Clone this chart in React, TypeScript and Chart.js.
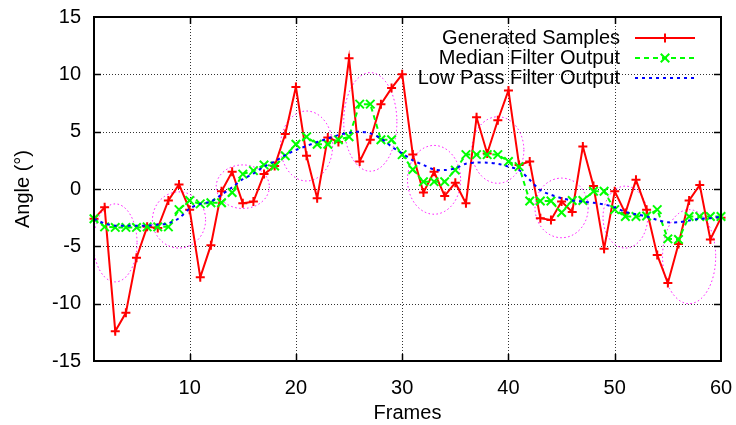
import React, { useEffect, useRef } from 'react';
import { Chart, registerables } from 'chart.js';

Chart.register(...registerables);

const frames = [
  1, 2, 3, 4, 5, 6, 7, 8, 9, 10, 11, 12, 13, 14, 15, 16, 17, 18, 19, 20,
  21, 22, 23, 24, 25, 26, 27, 28, 29, 30, 31, 32, 33, 34, 35, 36, 37, 38, 39, 40,
  41, 42, 43, 44, 45, 46, 47, 48, 49, 50, 51, 52, 53, 54, 55, 56, 57, 58, 59, 60,
];

const generated = [
  -2.6, -1.6, -12.4, -10.8, -6.0, -3.3, -3.4, -1.0, 0.4, -1.8,
  -7.7, -4.9, -0.2, 1.5, -1.25, -1.1, 1.3, 2.0, 4.8, 8.9,
  2.9, -0.8, 4.5, 4.1, 11.4, 2.4, 4.3, 7.4, 8.8, 10.0,
  3.0, -0.3, 1.5, -0.6, 0.55, -1.25, 6.25, 3.1, 6.0, 8.6,
  2.1, 2.4, -2.55, -2.7, -1.1, -2.0, 3.7, 0.26, -5.2, -0.2,
  -2.1, 0.8, -1.8, -5.75, -8.2, -4.8, -1.0, 0.35, -4.4, -2.5,
];

const medianOut = [
  -2.6, -3.3, -3.35, -3.35, -3.35, -3.3, -3.3, -3.3, -1.8, -1.0,
  -1.3, -1.2, -1.2, -0.3, 1.3, 1.6, 2.1, 2.0, 2.9, 3.9,
  4.55, 3.9, 3.9, 4.3, 4.55, 7.4, 7.4, 4.3, 4.3, 3.0,
  1.7, 0.64, 0.64, 0.64, 1.65, 3.0, 3.0, 3.0, 3.0, 2.4,
  1.95, -1.05, -1.05, -1.05, -2.05, -1.0, -1.0, -0.2, -0.2, -1.8,
  -2.4, -2.4, -2.35, -1.8, -4.35, -4.4, -2.4, -2.4, -2.4, -2.4,
];

const lowPassOut = [
  -2.6, -3.0, -3.2, -3.2, -3.2, -3.2, -3.1, -3.0, -2.55, -1.7,
  -1.3, -1.1, -0.5, 0.15, 0.85, 1.35, 1.95, 2.4, 2.95, 3.4,
  3.75, 4.1, 4.4, 4.7, 4.9, 5.0, 4.85, 4.4, 3.7, 3.1,
  2.5, 2.1, 1.7, 1.65, 1.8, 2.2, 2.3, 2.3, 2.2, 1.95,
  1.65, 0.8, -0.1, -0.5, -0.8, -1.0, -1.1, -1.2, -1.35, -1.6,
  -2.0, -2.2, -2.4, -2.7, -2.9, -2.9, -2.75, -2.6, -2.55, -2.4,
];

const ellipseX = [3, 9, 15, 21, 27, 33, 39, 45, 51, 57];
const ellipseY = [-4.7, -2.7, 0.2, 3.75, 5.85, 0.8, 3.4, -1.65, -2.45, -5.9];
const ellipseRX = [2.05, 2.5, 2.5, 2.45, 2.5, 2.5, 2.45, 2.5, 2.1, 2.5];
const ellipseRY = [3.4, 2.45, 1.9, 3.05, 4.3, 3.0, 2.9, 2.6, 2.7, 4.1];

const xTickValues = [10, 20, 30, 40, 50, 60];
const yTickValues = [-15, -10, -5, 0, 5, 10, 15];

const labels = ['Generated Samples', 'Median Filter Output', 'Low Pass Filter Output'];

const FONT = '"Liberation Sans", Arial, Helvetica, sans-serif';

function drawMarker(ctx: CanvasRenderingContext2D, style: string, cx: number, cy: number, r: number) {
  ctx.beginPath();
  if (style === 'cross') {
    ctx.moveTo(cx - r, cy);
    ctx.lineTo(cx + r, cy);
    ctx.moveTo(cx, cy - r);
    ctx.lineTo(cx, cy + r);
  } else {
    const d = r * Math.SQRT1_2;
    ctx.moveTo(cx - d, cy - d);
    ctx.lineTo(cx + d, cy + d);
    ctx.moveTo(cx - d, cy + d);
    ctx.lineTo(cx + d, cy - d);
  }
  ctx.stroke();
}

const decorPlugin = {
  id: 'decor',
  beforeDatasetsDraw(chart: any) {
    const { ctx, chartArea: a, scales } = chart;
    const x = scales.x;
    const y = scales.y;
    ctx.save();
    ctx.strokeStyle = 'rgba(0,0,0,0.8)';
    ctx.lineWidth = 1;
    ctx.setLineDash([1, 2]);
    for (const v of xTickValues) {
      if (v <= x.min || v >= x.max) continue;
      const px = Math.round(x.getPixelForValue(v)) + 0.5;
      ctx.beginPath();
      ctx.moveTo(px, a.top);
      ctx.lineTo(px, a.bottom);
      ctx.stroke();
    }
    for (const v of yTickValues) {
      if (v <= y.min || v >= y.max) continue;
      const py = Math.round(y.getPixelForValue(v)) + 0.5;
      ctx.beginPath();
      ctx.moveTo(a.left, py);
      ctx.lineTo(a.right, py);
      ctx.stroke();
    }
    ctx.strokeStyle = '#ff00ff';
    ctx.lineWidth = 1;
    ctx.setLineDash([1.5, 2.5]);
    for (let i = 0; i < ellipseX.length; i++) {
      const cx = x.getPixelForValue(ellipseX[i]);
      const cy = y.getPixelForValue(ellipseY[i]);
      const rx = Math.abs(x.getPixelForValue(ellipseX[i] + ellipseRX[i]) - cx);
      const ry = Math.abs(y.getPixelForValue(ellipseY[i] + ellipseRY[i]) - cy);
      ctx.beginPath();
      ctx.ellipse(cx, cy, rx, ry, 0, 0, Math.PI * 2);
      ctx.stroke();
    }
    ctx.restore();
  },
  afterDatasetsDraw(chart: any) {
    const { ctx, chartArea: a, scales } = chart;
    const x = scales.x;
    const y = scales.y;
    ctx.save();
    ctx.setLineDash([]);
    ctx.strokeStyle = '#000';
    ctx.lineWidth = 1.5;
    const tl = 7;
    for (const v of xTickValues) {
      if (v <= x.min || v >= x.max) continue;
      const px = Math.round(x.getPixelForValue(v)) + 0.5;
      ctx.beginPath();
      ctx.moveTo(px, a.bottom);
      ctx.lineTo(px, a.bottom - tl);
      ctx.moveTo(px, a.top);
      ctx.lineTo(px, a.top + tl);
      ctx.stroke();
    }
    for (const v of yTickValues) {
      if (v <= y.min || v >= y.max) continue;
      const py = Math.round(y.getPixelForValue(v)) + 0.5;
      ctx.beginPath();
      ctx.moveTo(a.left, py);
      ctx.lineTo(a.left + tl, py);
      ctx.moveTo(a.right, py);
      ctx.lineTo(a.right - tl, py);
      ctx.stroke();
    }
    ctx.lineWidth = 2;
    ctx.strokeRect(a.left, a.top, a.right - a.left, a.bottom - a.top);

    const ds = chart.data.datasets;
    ctx.font = `20px ${FONT}`;
    ctx.fillStyle = '#000';
    ctx.textAlign = 'right';
    ctx.textBaseline = 'middle';
    const textX = a.right - 101;
    const lx0 = a.right - 86;
    const lx1 = a.right - 26;
    for (let i = 0; i < ds.length; i++) {
      const rowY = a.top + 21 + i * 20;
      ctx.fillText(ds[i].label, textX, rowY);
      ctx.strokeStyle = ds[i].borderColor;
      ctx.lineWidth = ds[i].borderWidth;
      ctx.setLineDash(ds[i].borderDash || []);
      ctx.beginPath();
      ctx.moveTo(lx0, rowY);
      ctx.lineTo(lx1, rowY);
      ctx.stroke();
      ctx.setLineDash([]);
      if (ds[i].pointRadius > 0) {
        ctx.lineWidth = ds[i].pointBorderWidth;
        drawMarker(ctx, ds[i].pointStyle, (lx0 + lx1) / 2, rowY, ds[i].pointRadius);
      }
    }
    ctx.restore();
  },
};

export default function App() {
  const ref = useRef<HTMLCanvasElement>(null);

  useEffect(() => {
    document.body.style.margin = '0';
    const canvas = ref.current;
    if (!canvas) return;
    Chart.defaults.font.family = FONT;
    Chart.defaults.color = '#000';

    const toPts = (vals: number[]) => frames.map((f, i) => ({ x: f, y: vals[i] }));
    const zeroPad = (s: any) => {
      s.paddingTop = 0;
      s.paddingBottom = 0;
      s.paddingLeft = 0;
      s.paddingRight = 0;
    };

    const chart = new Chart(canvas, {
      type: 'line',
      data: {
        datasets: [
          {
            label: labels[0],
            data: toPts(generated),
            borderColor: '#ff0000',
            backgroundColor: '#ff0000',
            borderWidth: 2,
            pointStyle: 'cross',
            pointRadius: 4.5,
            pointBorderWidth: 2,
            pointBorderColor: '#ff0000',
            tension: 0,
            fill: false,
            clip: false,
            order: 3,
          } as any,
          {
            label: labels[1],
            data: toPts(medianOut),
            borderColor: '#00ff00',
            backgroundColor: '#00ff00',
            borderWidth: 2,
            borderDash: [5, 4],
            pointStyle: 'crossRot',
            pointRadius: 6,
            pointBorderWidth: 2,
            pointBorderColor: '#00ff00',
            tension: 0,
            fill: false,
            clip: false,
            order: 2,
          } as any,
          {
            label: labels[2],
            data: toPts(lowPassOut),
            borderColor: '#0000ff',
            backgroundColor: '#0000ff',
            borderWidth: 2,
            borderDash: [3, 4],
            pointRadius: 0,
            pointBorderWidth: 0,
            tension: 0.3,
            fill: false,
            clip: false,
            order: 1,
          } as any,
        ],
      },
      options: {
        responsive: false,
        devicePixelRatio: 1,
        animation: false,
        events: [],
        layout: { padding: { left: 0, right: 15, top: 17, bottom: 0 } },
        plugins: {
          legend: { display: false },
          tooltip: { enabled: false },
        },
        scales: {
          x: {
            type: 'linear',
            min: 1,
            max: 60,
            afterBuildTicks: (s: any) => {
              s.ticks = xTickValues.map((v) => ({ value: v }));
            },
            afterFit: (s: any) => {
              s.height = 64;
              zeroPad(s);
            },
            ticks: {
              padding: 15,
              font: { size: 20 },
              color: '#000',
              autoSkip: false,
              maxRotation: 0,
              callback: (v: any) => String(v),
            },
            grid: { display: false, drawTicks: false },
            border: { display: false },
            title: {
              display: true,
              text: 'Frames',
              font: { size: 20 },
              color: '#000',
              padding: { top: 0, bottom: 0 },
            },
          },
          y: {
            type: 'linear',
            min: -15,
            max: 15,
            afterBuildTicks: (s: any) => {
              s.ticks = yTickValues.map((v) => ({ value: v }));
            },
            afterFit: (s: any) => {
              s.width = 94;
              zeroPad(s);
            },
            ticks: {
              padding: 13,
              font: { size: 20 },
              color: '#000',
              callback: (v: any) => String(v),
            },
            grid: { display: false, drawTicks: false },
            border: { display: false },
            title: {
              display: true,
              text: 'Angle (°)',
              font: { size: 20 },
              color: '#000',
              padding: { top: 11, bottom: 0 },
            },
          },
        },
      } as any,
      plugins: [decorPlugin],
    });

    return () => {
      chart.destroy();
    };
  }, []);

  return (
    <div style={{ position: 'absolute', left: 0, top: 0, width: 736, height: 425 }}>
      <canvas ref={ref} width={736} height={425} style={{ display: 'block', width: 736, height: 425 }} />
    </div>
  );
}
